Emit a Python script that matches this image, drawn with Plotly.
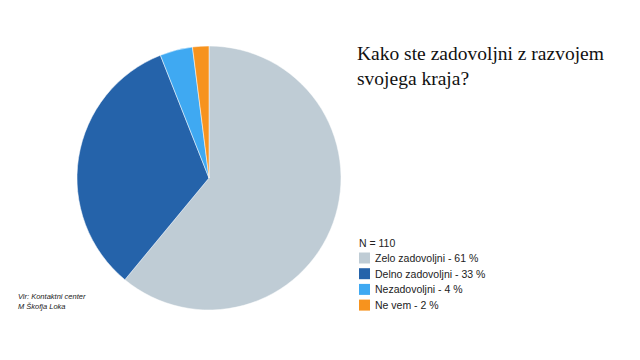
import plotly.graph_objects as go

labels = ["Zelo zadovoljni - 61 %", "Delno zadovoljni - 33 %", "Nezadovoljni - 4 %", "Ne vem - 2 %"]
values = [61, 33, 4, 2]
colors = ["#BFCCD5", "#2563AA", "#3FA9F2", "#F7931E"]
legend_title = "N = 110"
title = "Kako ste zadovoljni z razvojem<br>svojega kraja?"
source = "<i>Vir: Kontaktni center<br>M Škofja Loka</i>"

W, H = 640, 360
fig = go.Figure(go.Pie(
    labels=labels, values=values, sort=False, direction="clockwise", rotation=0,
    marker=dict(colors=colors, line=dict(color="white", width=0.5)),
    textinfo="none", hoverinfo="label", showlegend=False,
    domain=dict(x=[77 / W, 341 / W], y=[(H - 310) / H, (H - 46) / H]),
))

def px(x):
    return x / W

def py(y):
    return (H - y) / H

annotations = [
    dict(text=title, x=px(355), y=py(41), xref="paper", yref="paper", xanchor="left", yanchor="top",
         align="left", showarrow=False,
         font=dict(family="Liberation Serif, Georgia, serif", size=19.5, color="#111")),
    dict(text=source, x=px(16), y=py(290), xref="paper", yref="paper", xanchor="left", yanchor="top",
         align="left", showarrow=False,
         font=dict(family="Liberation Sans, Arial", size=7.5, color="#222")),
    dict(text=legend_title, x=px(357), y=py(243), xref="paper", yref="paper", xanchor="left", yanchor="middle",
         align="left", showarrow=False,
         font=dict(family="Liberation Sans, Arial", size=10.5, color="#222")),
]
shapes = []
row0, step = 258, 15.7
for i, (lab, col) in enumerate(zip(labels, colors)):
    yc = row0 + i * step
    shapes.append(dict(type="rect", xref="paper", yref="paper", x0=px(359), x1=px(370),
                       y0=py(yc + 5.5), y1=py(yc - 5.5), fillcolor=col, line=dict(width=0)))
    annotations.append(dict(text=lab, x=px(373), y=py(yc), xref="paper", yref="paper",
                            xanchor="left", yanchor="middle", align="left", showarrow=False,
                            font=dict(family="Liberation Sans, Arial", size=10.5, color="#222")))

fig.update_layout(
    width=W, height=H, margin=dict(l=0, r=0, t=0, b=0),
    paper_bgcolor="white", plot_bgcolor="white",
    annotations=annotations, shapes=shapes,
)
fig.write_html("out.html", config={"displayModeBar": False},
               post_script="document.body.style.margin='0';")
